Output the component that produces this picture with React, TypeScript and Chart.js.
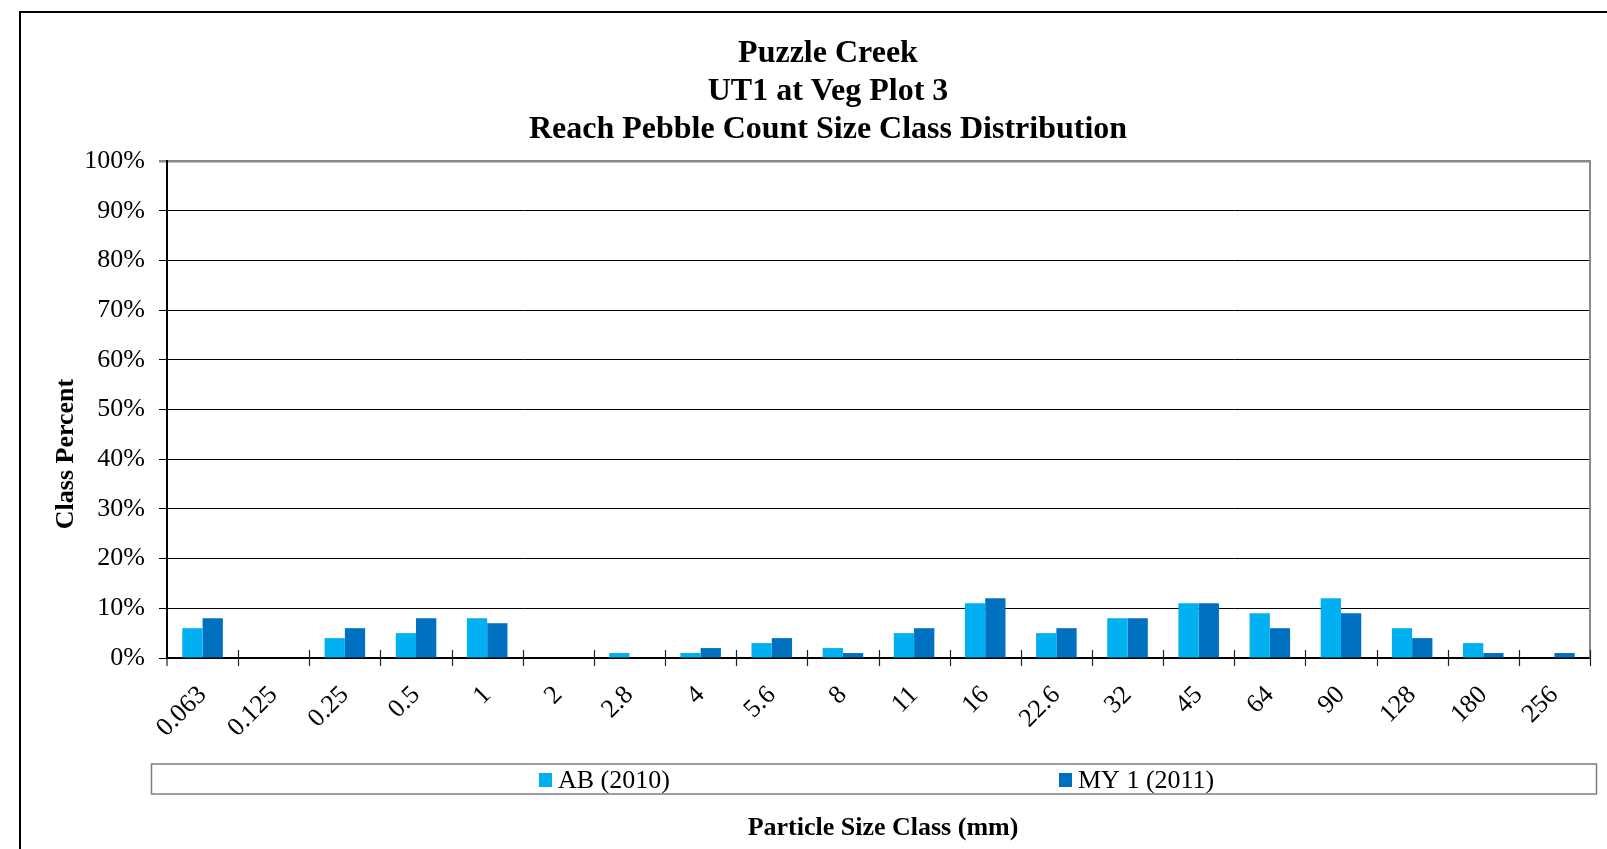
import React, { useEffect, useRef } from "react";
import { Chart, registerables } from "chart.js";

Chart.register(...registerables);

const categories = ["0.063", "0.125", "0.25", "0.5", "1", "2", "2.8", "4", "5.6", "8", "11", "16", "22.6", "32", "45", "64", "90", "128", "180", "256"];
const abValues = [6, 0, 4, 5, 8, 0, 1, 1, 3, 2, 5, 11, 5, 8, 11, 9, 12, 6, 3, 0];
const myValues = [8, 0, 6, 8, 7, 0, 0, 2, 4, 1, 6, 12, 6, 8, 11, 6, 9, 4, 1, 1];
const seriesNames = ["AB (2010)", "MY 1 (2011)"];
const seriesColors = ["#00B0F0", "#0070C0"];
const titleLines = ["Puzzle Creek", "UT1 at Veg Plot 3", "Reach Pebble Count Size Class Distribution"];
const xTitle = "Particle Size Class (mm)";
const yTitle = "Class Percent";

const FONT = '"Liberation Serif", "Times New Roman", serif';

const decorPlugin = {
  id: "decor",
  afterDraw(chart: any) {
    const { ctx, chartArea } = chart;
    ctx.save();
    // plot right border
    ctx.strokeStyle = "#898989";
    ctx.lineWidth = 2;
    ctx.beginPath();
    ctx.moveTo(chartArea.right, chartArea.top - 1);
    ctx.lineTo(chartArea.right, chartArea.bottom);
    ctx.stroke();
    // cross tick marks on category axis
    ctx.strokeStyle = "#222";
    ctx.lineWidth = 1.2;
    const n = categories.length;
    const step = (chartArea.right - chartArea.left) / n;
    ctx.beginPath();
    for (let i = 1; i <= n; i++) {
      const px = Math.round(chartArea.left + i * step) + 0.5;
      ctx.moveTo(px, chartArea.bottom - 8);
      ctx.lineTo(px, chartArea.bottom + 8);
    }
    ctx.moveTo(chartArea.left, chartArea.bottom);
    ctx.lineTo(chartArea.left, chartArea.bottom + 8);
    ctx.stroke();

    // title
    ctx.fillStyle = "#000";
    ctx.font = `bold 32px ${FONT}`;
    ctx.textAlign = "center";
    ctx.textBaseline = "alphabetic";
    titleLines.forEach((t, i) => ctx.fillText(t, 828, 62 + i * 38));

    // y title
    ctx.save();
    ctx.translate(66, 454);
    ctx.rotate(-Math.PI / 2);
    ctx.font = `bold 26px ${FONT}`;
    ctx.textBaseline = "middle";
    ctx.fillText(yTitle, 0, 0);
    ctx.restore();

    // legend box
    ctx.strokeStyle = "#7f7f7f";
    ctx.lineWidth = 1.5;
    ctx.strokeRect(151.5, 764, 1445, 30);
    const legendX = [539, 1059];
    ctx.font = `26px ${FONT}`;
    ctx.textAlign = "left";
    ctx.textBaseline = "alphabetic";
    seriesNames.forEach((name, i) => {
      ctx.fillStyle = seriesColors[i];
      ctx.fillRect(legendX[i], 773, 13, 14);
      ctx.fillStyle = "#000";
      ctx.fillText(name, legendX[i] + 19, 788);
    });

    // x title
    ctx.font = `bold 26px ${FONT}`;
    ctx.textAlign = "center";
    ctx.textBaseline = "middle";
    ctx.fillText(xTitle, 883, 828);
    ctx.restore();
  },
};

export default function App() {
  const canvasRef = useRef<HTMLCanvasElement | null>(null);

  useEffect(() => {
    const canvas = canvasRef.current;
    if (!canvas) return;
    const chart = new Chart(canvas, {
      type: "bar",
      data: {
        labels: categories,
        datasets: [
          { label: seriesNames[0], data: abValues, backgroundColor: seriesColors[0], borderWidth: 0 },
          { label: seriesNames[1], data: myValues, backgroundColor: seriesColors[1], borderWidth: 0 },
        ],
      },
      options: {
        animation: false,
        responsive: false,
        devicePixelRatio: 1,
        datasets: { bar: { categoryPercentage: 0.57, barPercentage: 1.0 } },
        layout: { padding: { left: 0, top: 161, right: 17, bottom: 111 } },
        plugins: { legend: { display: false }, title: { display: false }, tooltip: { enabled: false } },
        scales: {
          x: {
            grid: { drawOnChartArea: false, drawTicks: false },
            border: { display: true, color: "#000", width: 2 },
            ticks: {
              color: "#000",
              font: { family: FONT, size: 26 },
              minRotation: 45,
              maxRotation: 45,
              autoSkip: false,
              padding: 22,
            },
            afterFit: (scale: any) => {
              scale.height = 80;
            },
          },
          y: {
            min: 0,
            max: 100,
            ticks: {
              stepSize: 10,
              color: "#000",
              font: { family: FONT, size: 26 },
              padding: 14,
              callback: (v: any) => `${v}%`,
            },
            grid: {
              color: (c: any) => (c.tick && c.tick.value === 100 ? "#898989" : "#000"),
              lineWidth: (c: any) => (c.tick && c.tick.value === 100 ? 2.5 : 1),
              tickLength: 8,
            },
            border: { display: true, color: "#000", width: 2 },
            afterFit: (scale: any) => {
              scale.width = 167;
            },
          },
        },
      },
      plugins: [decorPlugin],
    });
    return () => chart.destroy();
  }, []);

  return (
    <div style={{ position: "fixed", inset: 0, overflow: "hidden", background: "#fff" }}>
      <div
        style={{
          position: "absolute",
          left: 19,
          top: 11,
          width: 1700,
          height: 1000,
          border: "2px solid #000",
          boxSizing: "border-box",
        }}
      />
      <canvas
        ref={canvasRef}
        width={1607}
        height={849}
        style={{ position: "absolute", left: 0, top: 0, width: 1607, height: 849 }}
      />
    </div>
  );
}
